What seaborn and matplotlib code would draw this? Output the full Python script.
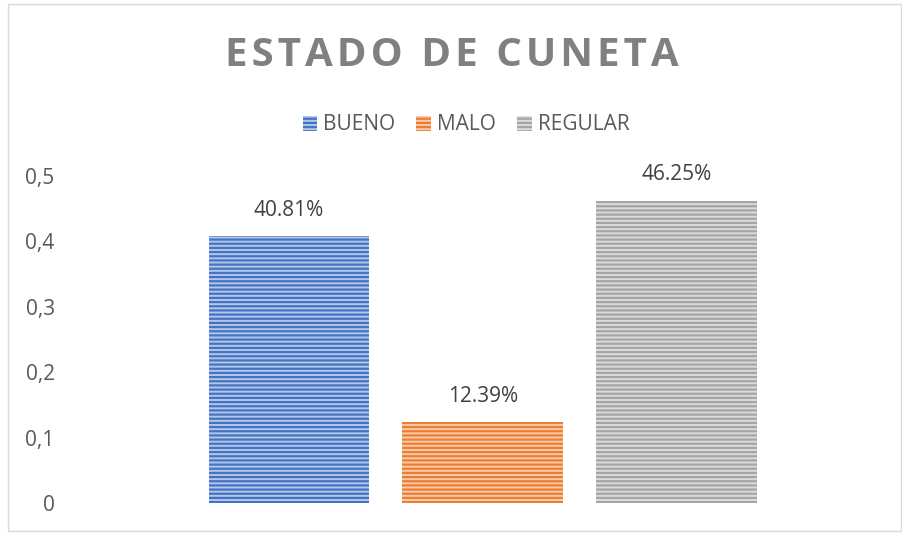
import matplotlib
matplotlib.use("Agg")
import matplotlib.pyplot as plt
import seaborn as sns
from matplotlib.patches import Patch, Rectangle

# datos
categorias = ["BUENO", "MALO", "REGULAR"]
valores = [0.4081, 0.1239, 0.4625]
etiquetas = ["40.81%", "12.39%", "46.25%"]
yticks = [0, 0.1, 0.2, 0.3, 0.4, 0.5]
ytick_labels = ["0", "0,1", "0,2", "0,3", "0,4", "0,5"]
titulo = "ESTADO DE CUNETA"

colores = ["#4472C4", "#ED7D31", "#A5A5A5"]
claros = ["#B4C7E7", "#F8CBAD", "#DBDBDB"]

sns.set_theme(style="white")
plt.rcParams["font.family"] = ["Open Sans", "DejaVu Sans"]
plt.rcParams["hatch.linewidth"] = 1.6

fig = plt.figure(figsize=(9.03, 5.33), dpi=100)
ax = fig.add_axes([70 / 903, 30 / 533, 810 / 903, 327 / 533])

sns.barplot(x=categorias, y=valores, hue=categorias, palette=colores,
            width=0.83, legend=False, ax=ax)

for p, c, cl in zip(ax.patches, colores, claros):
    p.set_facecolor(cl)
    p.set_edgecolor(c)
    p.set_hatch("----")
    p.set_linewidth(0)

for i, (v, t) in enumerate(zip(valores, etiquetas)):
    ax.annotate(t, (i, v), xytext=(0, 11), textcoords="offset points",
                ha="center", va="bottom", fontsize=15, color="#404040",
                annotation_clip=False)

ax.set_xlim(-1.13, 3.05)
ax.set_ylim(0, 0.5)
ax.set_yticks(yticks)
ax.set_yticklabels(ytick_labels, fontsize=15, color="#595959")
ax.set_xticks([])
ax.tick_params(axis="y", length=0, pad=11)
for s in ax.spines.values():
    s.set_visible(False)

fig.text(0.5, 1 - 55 / 533, "\u200a".join(titulo), ha="center", va="center",
         fontsize=29, fontweight="bold", color="#808080")

handles = [Patch(facecolor=cl, edgecolor=c, hatch="----", linewidth=0)
           for c, cl in zip(colores, claros)]
fig.legend(handles, categorias, loc="center", bbox_to_anchor=(466 / 903, 1 - 125 / 533),
           ncol=3, frameon=False, fontsize=15, labelcolor="#595959",
           handlelength=0.7, handleheight=0.7, handletextpad=0.3, columnspacing=1.0)

fig.add_artist(Rectangle((8 / 903, 2 / 533), 893 / 903, 527 / 533,
                         transform=fig.transFigure, fill=False,
                         edgecolor="#D9D9D9", linewidth=1))

fig.savefig("out.png", dpi=100)
